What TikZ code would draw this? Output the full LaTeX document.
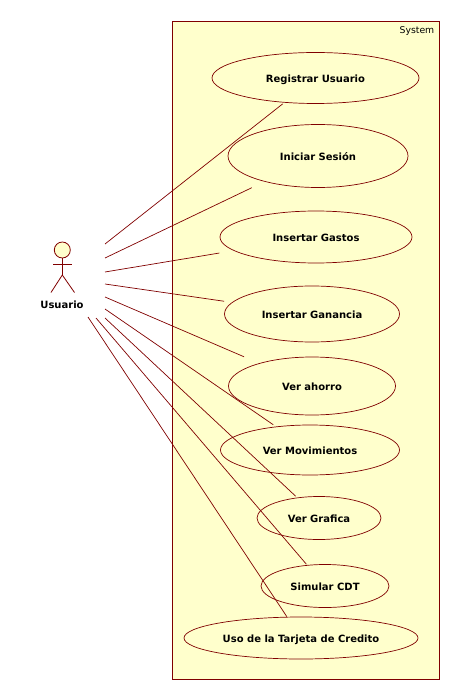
\documentclass[tikz,border=0pt]{standalone}
\usepackage{fontspec}
\setmainfont{DejaVu Sans}
\usepackage{xcolor}
\usetikzlibrary{shapes.geometric}

\definecolor{umlline}{RGB}{128,0,0}
\definecolor{umlfill}{RGB}{255,255,204}

\begin{document}
\begin{tikzpicture}[
    x=1pt, y=-1pt,
    sysbox/.style={draw=umlline, fill=umlfill, line width=0.9pt, inner sep=0pt, minimum width=267pt, minimum height=658pt},
    uc/.style={draw=umlline, fill=umlfill, ellipse, line width=0.7pt, inner sep=0pt, text height=9.5pt, text depth=0pt, font=\fontsize{10}{12}\selectfont\bfseries},
    assoc/.style={draw=umlline, line width=0.7pt},
    actorline/.style={draw=umlline, line width=0.8pt}
]
\useasboundingbox (0,0) rectangle (460,700);

\node[sysbox] (sys) at (305.5,350) {};
\node[anchor=north east, inner sep=0pt, font=\fontsize{9.3}{12}\selectfont] (syslabel) at (434.5,26) {System};

\node[uc, minimum width=207pt, minimum height=51pt] (reg) at (315.5,78) {Registrar Usuario};
\node[uc, minimum width=180pt, minimum height=63pt] (ini) at (318,156) {Iniciar Sesión};
\node[uc, minimum width=192pt, minimum height=52pt] (gas) at (316,237) {Insertar Gastos};
\node[uc, minimum width=175pt, minimum height=56pt] (gan) at (312,314) {Insertar Ganancia};
\node[uc, minimum width=167pt, minimum height=58pt] (aho) at (312,386) {Ver ahorro};
\node[uc, minimum width=179pt, minimum height=50pt] (mov) at (310,450) {Ver Movimientos};
\node[uc, minimum width=124pt, minimum height=43pt] (gra) at (319,518) {Ver Grafica};
\node[uc, minimum width=128pt, minimum height=43pt] (cdt) at (325,586) {Simular CDT};
\node[uc, minimum width=234pt, minimum height=42pt] (tar) at (301,638) {Uso de la Tarjeta de Credito};

% actor
\node[draw=umlline, fill=umlfill, circle, line width=0.8pt, inner sep=0pt, minimum size=16pt] (head) at (62.3,250) {};
\coordinate (neck) at (62.3,275);
\coordinate (armL) at (53,264);
\coordinate (armR) at (72,264);
\coordinate (footL) at (51,292.5);
\coordinate (footR) at (74.5,292.5);
\draw[actorline] (head) -- (neck);
\draw[actorline] (armL) -- (armR);
\draw[actorline] (footL) -- (neck) -- (footR);
\node[font=\fontsize{10}{12}\selectfont\bfseries, inner sep=0pt] (usr) at (62,305) {Usuario};

% free ends next to the actor
\coordinate (a1) at (105,244);
\coordinate (a2) at (105,258);
\coordinate (a3) at (105,272);
\coordinate (a4) at (105,284);
\coordinate (a5) at (105,297);
\coordinate (a6) at (105,309);
\coordinate (a7) at (105,318);
\coordinate (a8) at (96,318);
\coordinate (a9) at (88,317);

\foreach \from/\to/\gap in {a1/reg/1.9, a2/ini/14, a3/gas/14.4, a4/gan/7.8, a5/aho/16.3, a6/mov/3.2, a7/gra/2, a8/cdt/1.1, a9/tar/0.2}
    \draw[assoc, shorten >=\gap pt] (\from) -- (\to);
\end{tikzpicture}
\end{document}
